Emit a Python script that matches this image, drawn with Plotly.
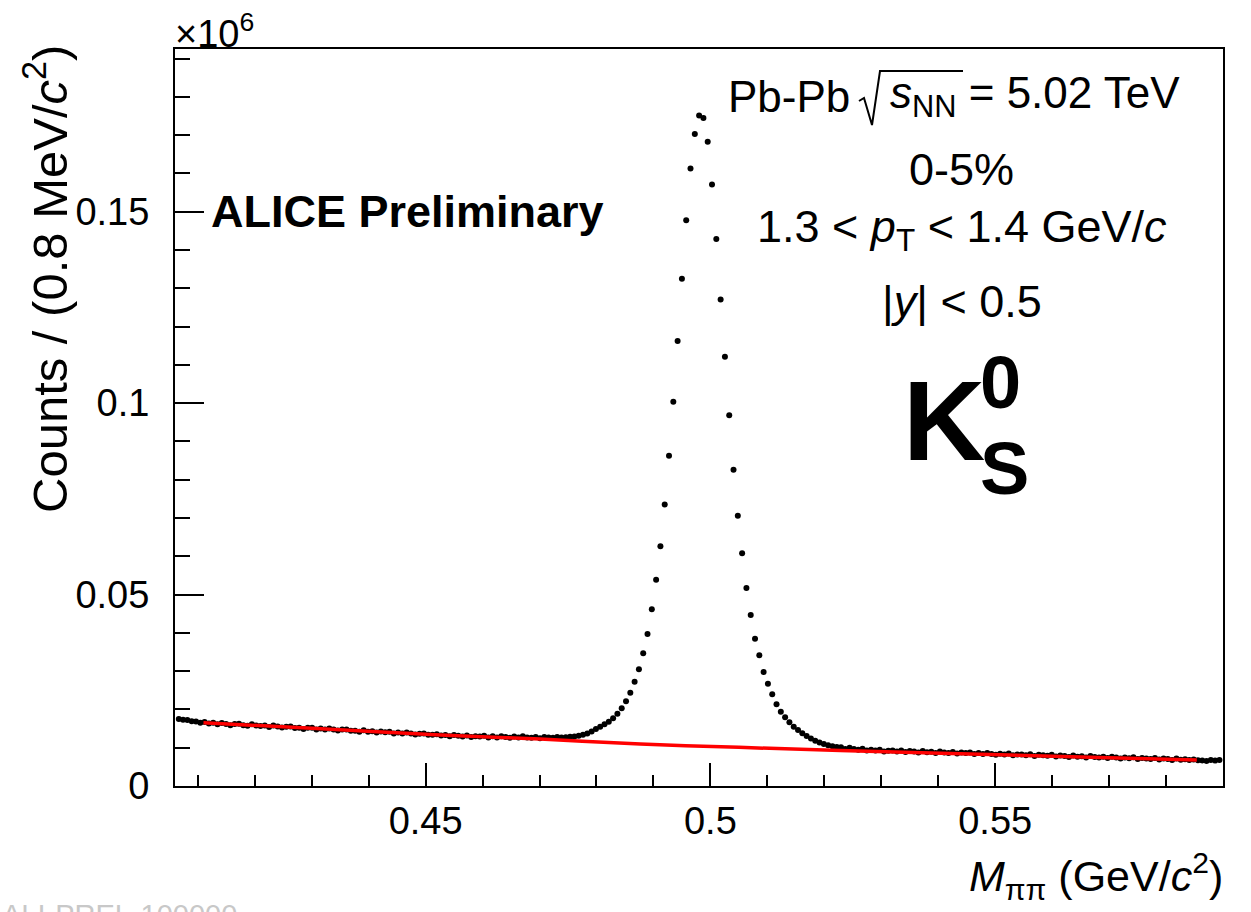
import plotly.graph_objects as go

# ---------------- data ----------------
BIN_WIDTH = 0.000755          # GeV/c^2, spacing of the points
FIRST_CENTER = 0.406665       # centre of the first bin

counts = [  # x10^6
    0.01752, 0.01728, 0.01722, 0.01689, 0.01683, 0.01652, 0.01670, 0.01635, 0.01649, 0.01613,
    0.01647, 0.01621, 0.01585, 0.01620, 0.01624, 0.01588, 0.01572, 0.01616, 0.01580, 0.01564,
    0.01579, 0.01543, 0.01577, 0.01551, 0.01525, 0.01550, 0.01554, 0.01518, 0.01522, 0.01486,
    0.01520, 0.01524, 0.01478, 0.01502, 0.01477, 0.01501, 0.01475, 0.01449, 0.01473, 0.01477,
    0.01441, 0.01446, 0.01420, 0.01454, 0.01418, 0.01432, 0.01396, 0.01421, 0.01405, 0.01419,
    0.01373, 0.01397, 0.01371, 0.01395, 0.01369, 0.01344, 0.01368, 0.01372, 0.01336, 0.01340,
    0.01354, 0.01319, 0.01330, 0.01300, 0.01330, 0.01310, 0.01290, 0.01320, 0.01280, 0.01300,
    0.01290, 0.01310, 0.01270, 0.01300, 0.01270, 0.01300, 0.01280, 0.01260, 0.01290, 0.01270,
    0.01300, 0.01270, 0.01260, 0.01280, 0.01250, 0.01280, 0.01270, 0.01260, 0.01280, 0.01270,
    0.01275, 0.01284, 0.01292, 0.01310, 0.01336, 0.01370, 0.01422, 0.01487, 0.01547, 0.01610,
    0.01678, 0.01767, 0.01887, 0.02028, 0.02211, 0.02436, 0.02723, 0.03048, 0.03466, 0.03970,
    0.04616, 0.05390, 0.06262, 0.07350, 0.08623, 0.10034, 0.11620, 0.13250, 0.14780, 0.16130,
    0.17030, 0.17510, 0.17450, 0.16830, 0.15710, 0.14290, 0.12710, 0.11210, 0.09686, 0.08257,
    0.07062, 0.06082, 0.05172, 0.04467, 0.03847, 0.03413, 0.02977, 0.02671, 0.02394, 0.02133,
    0.01939, 0.01793, 0.01662, 0.01547, 0.01461, 0.01375, 0.01304, 0.01240, 0.01185, 0.01138,
    0.01098, 0.01066, 0.01040, 0.01018, 0.01010, 0.00968, 0.00997, 0.00968, 0.00950, 0.00973,
    0.00926, 0.00950, 0.00924, 0.00948, 0.00902, 0.00919, 0.00925, 0.00902, 0.00929, 0.00886,
    0.00912, 0.00899, 0.00876, 0.00912, 0.00879, 0.00896, 0.00862, 0.00899, 0.00876, 0.00862,
    0.00889, 0.00846, 0.00873, 0.00859, 0.00876, 0.00833, 0.00859, 0.00836, 0.00863, 0.00839,
    0.00816, 0.00843, 0.00820, 0.00846, 0.00803, 0.00820, 0.00826, 0.00803, 0.00830, 0.00786,
    0.00813, 0.00800, 0.00787, 0.00813, 0.00770, 0.00797, 0.00783, 0.00760, 0.00797, 0.00763,
    0.00780, 0.00747, 0.00784, 0.00760, 0.00747, 0.00764, 0.00730, 0.00767, 0.00744, 0.00720,
    0.00747, 0.00724, 0.00751, 0.00707, 0.00734, 0.00721, 0.00707, 0.00734, 0.00691, 0.00717,
    0.00704, 0.00681, 0.00718, 0.00684, 0.00701, 0.00678, 0.00694, 0.00670, 0.00668, 0.00654,
    0.00678, 0.00664, 0.00682,
]
mass = [round(FIRST_CENTER + BIN_WIDTH * i, 6) for i in range(len(counts))]

# background fit (red line)
fit_mass = [0.4110, 0.4300, 0.4526, 0.4701, 0.4877, 0.5050, 0.5228, 0.5508, 0.5700, 0.5854]
fit_vals = [0.01652, 0.01508, 0.01330, 0.01226, 0.01095, 0.01010, 0.00925, 0.00815, 0.00740, 0.00677]

x_ticks = [0.45, 0.5, 0.55]
x_tick_text = ["0.45", "0.5", "0.55"]
y_ticks = [0, 0.05, 0.1, 0.15]
y_tick_text = ["0", "0.05", "0.1", "0.15"]

X_RANGE = [0.406, 0.590]
Y_RANGE = [0, 0.1925]

# ---------------- figure ----------------
W, H = 1251, 912
ML, MR, MT, MB = 175, 28, 49, 126
PW, PH = W - ML - MR, H - MT - MB
FONT = "Liberation Sans, Arial, Helvetica, sans-serif"


def px(xp):
    return (xp - ML) / PW


def py(yp):
    return (H - MB - yp) / PH


fig = go.Figure()
fig.add_trace(go.Scatter(x=mass, y=counts, mode="markers",
                         marker=dict(color="black", size=6),
                         showlegend=False))
fig.add_trace(go.Scatter(x=fit_mass, y=fit_vals, mode="lines",
                         line=dict(color="#ff0000", width=3.5, shape="spline"),
                         hoverinfo="skip", showlegend=False))

axis_common = dict(showgrid=False, zeroline=False, showline=True, linecolor="black",
                   linewidth=2, mirror=True, ticks="inside", tickcolor="black",
                   tickwidth=2, tickfont=dict(family=FONT, size=38, color="black"))

fig.update_xaxes(range=X_RANGE, tickvals=x_ticks, ticktext=x_tick_text, ticklen=23,
                 minor=dict(ticks="inside", dtick=0.01, tick0=0.4, ticklen=11,
                            tickwidth=2, tickcolor="black"),
                 ticklabelstandoff=0, **axis_common)
fig.update_yaxes(range=Y_RANGE, tickvals=y_ticks, ticktext=y_tick_text, ticklen=29,
                 minor=dict(ticks="inside", dtick=0.01, tick0=0, ticklen=15,
                            tickwidth=2, tickcolor="black"),
                 ticklabelstandoff=16, **axis_common)

anns = []


def ann(text, x, y, size, xanchor="center", yanchor="middle", bold=False, angle=0, color="black"):
    if bold:
        text = "<b>" + text + "</b>"
    anns.append(dict(text=text, x=px(x), y=py(y), xref="paper", yref="paper",
                     xanchor=xanchor, yanchor=yanchor, showarrow=False, textangle=angle,
                     font=dict(family=FONT, size=size, color=color)))


ann("×10<sup>6</sup>", 173, 31, 38, xanchor="left")
ann("ALICE Preliminary", 209, 211, 45, xanchor="left", bold=True)
ann("Pb-Pb", 726, 96, 44, xanchor="left")
ann("<i>s</i><sub>NN</sub> = 5.02 TeV", 888, 96, 44, xanchor="left")
ann("0-5%", 961, 169, 45)
ann("1.3 < <i>p</i><sub>T</sub> < 1.4 GeV/<i>c</i>", 962, 229, 45)
ann("|<i>y</i>| < 0.5", 962, 301, 45)
ann("K", 901, 420, 114, xanchor="left", bold=True)
ann("0", 978, 382, 74, xanchor="left", bold=True)
ann("S", 978, 468, 74, xanchor="left", bold=True)
ann("Counts / (0.8 MeV/<i>c</i><sup>2</sup>)", 46, 43, 49, yanchor="top", angle=-90)
ann("<i>M</i><sub>ππ</sub> (GeV/<i>c</i><sup>2</sup>)", 1225, 876, 43, xanchor="right")
ann("ALI-PREL-100000", 0, 915, 29, xanchor="left", color="#c8c8c8")

# square-root sign drawn as a path (pixel positions converted to paper units)
root_pts = [(859, 101), (864, 98), (872, 125), (880, 71), (963, 71)]
root_path = "M " + " L ".join(f"{px(a):.5f},{py(b):.5f}" for a, b in root_pts)

fig.update_layout(width=W, height=H, autosize=False,
                  margin=dict(l=ML, r=MR, t=MT, b=MB, pad=0),
                  plot_bgcolor="white", paper_bgcolor="white",
                  annotations=anns,
                  shapes=[dict(type="path", xref="paper", yref="paper", path=root_path,
                               line=dict(color="black", width=2))])

fig.write_html("out.html")
